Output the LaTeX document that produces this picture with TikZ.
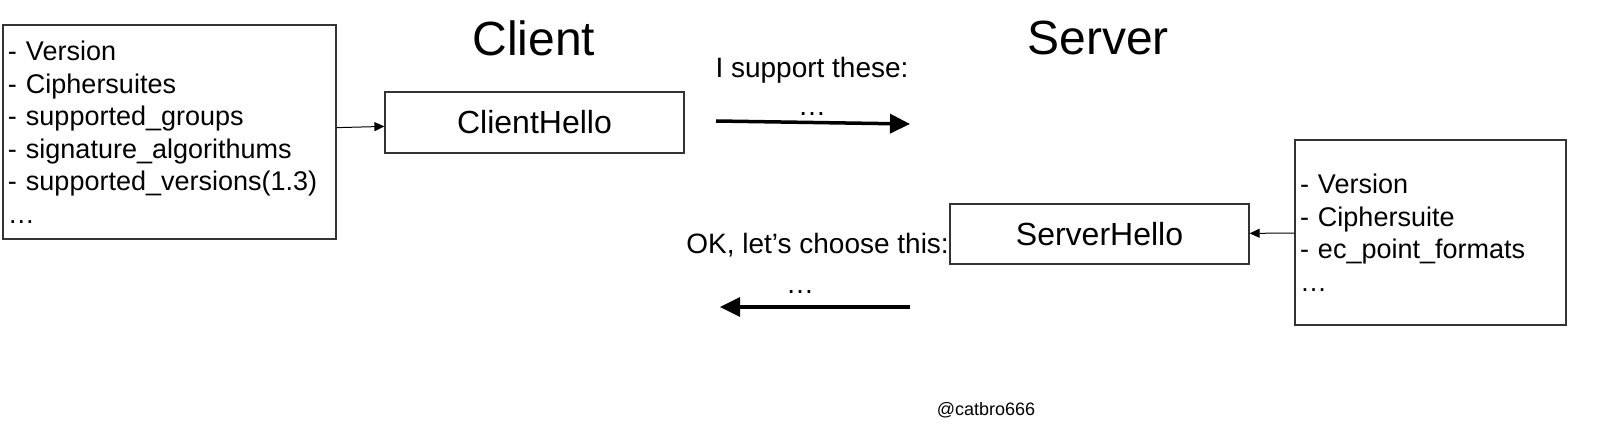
\documentclass[tikz,border=0pt]{standalone}
\usepackage{fontspec}
\setmainfont{Liberation Sans}
\usetikzlibrary{arrows.meta}

\tikzset{
  box/.style={draw=black!80, line width=1.2pt, minimum width=299pt, minimum height=61pt, font=\fontsize{32}{38}\selectfont},
  listbox/.style={draw=black!80, line width=1.2pt, align=left, inner xsep=5pt, font=\fontsize{27}{32.5}\selectfont},
  title/.style={font=\fontsize{48}{56}\selectfont},
  msg/.style={font=\fontsize{28}{33}\selectfont},
  bigarrow/.style={line width=3.5pt, -{Triangle[length=20pt,width=19pt]}},
  smallarrow/.style={line width=1pt, -{Triangle[length=10pt,width=9pt]}}
}

\begin{document}
\begin{tikzpicture}[x=1pt,y=-1pt]
  \useasboundingbox (0,0) rectangle (1598,438);

  \node[title] (client) at (534,38) {Client};
  \node[title] (server) at (1098,38) {Server};

  \node[listbox, text width=323pt, minimum height=214pt] (clist) at (169.5,132)
    {- Version\\- Ciphersuites\\- supported\_groups\\- signature\_algorithums\\- supported\_versions(1.3)\\\dots};
  \node[box] (chello) at (534.5,122.5) {ClientHello};
  \draw[smallarrow] (clist) -- (chello);

  \node[msg] (support) at (812,70) {I support these:};
  \node[msg] (sdots) at (812,114) {\dots};
  \coordinate (s1) at (716,121);
  \coordinate (e1) at (910,124);
  \draw[bigarrow] (s1) -- (e1);

  \node[listbox, text width=261pt, minimum height=185pt] (slist) at (1430.5,232.5)
    {- Version\\- Ciphersuite\\- ec\_point\_formats\\\dots};
  \node[box, minimum height=60pt] (shello) at (1099.5,234) {ServerHello};
  \draw[smallarrow] (slist) -- (shello);

  \node[msg, anchor=east, inner sep=0pt] (choose) at (949,245) {OK, let’s choose this:};
  \node[msg] (cdots) at (800,292) {\dots};
  \coordinate (s2) at (910,307);
  \coordinate (e2) at (720,307);
  \draw[bigarrow] (s2) -- (e2);

  \node[font=\fontsize{18}{21}\selectfont] (sign) at (986,410) {@catbro666};
\end{tikzpicture}
\end{document}
